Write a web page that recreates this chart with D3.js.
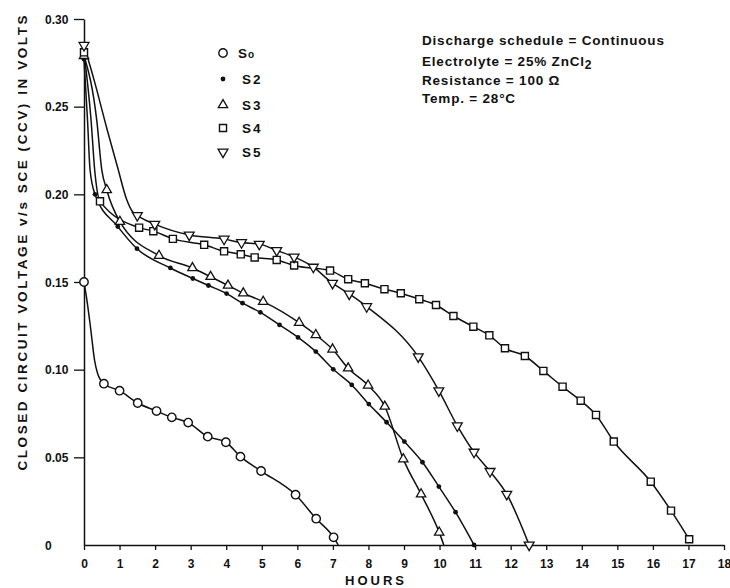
<!DOCTYPE html>
<html>
<head>
<meta charset="utf-8">
<script src="https://cdn.jsdelivr.net/npm/d3@7"></script>
<style>
  body { margin: 0; background: #fff; }
  svg { display: block; }
  text { font-family: "Liberation Sans", Arial, sans-serif; font-weight: bold; fill: #111; }
</style>
</head>
<body>
<svg id="chart" width="730" height="588"></svg>
<script>
// Axis tick values
const hourTicks = d3.range(0, 19);
const voltTicks = [0, 0.05, 0.10, 0.15, 0.20, 0.25, 0.30];

// Series names (legend order)
const seriesNames = ["So", "S2", "S3", "S4", "S5"];

// Measured points [hours, volts] (drawn with a marker)
const s0Points = [[0, 0.150], [0.56, 0.092], [1.0, 0.088], [1.51, 0.081], [2.04, 0.0764], [2.47, 0.0728],
  [2.93, 0.0698], [3.48, 0.0618], [3.99, 0.0586], [4.4, 0.0504], [4.98, 0.0422], [5.95, 0.0287],
  [6.53, 0.015], [7.02, 0.0044]];
const s2Points = [[0, 0.277], [0.31, 0.200], [0.95, 0.1816], [1.49, 0.169], [2.43, 0.158], [3.06, 0.152],
  [3.5, 0.148], [4.01, 0.1434], [4.46, 0.1379], [4.96, 0.1327], [5.5, 0.1255], [6.02, 0.1184],
  [6.52, 0.1103], [7.01, 0.1002], [7.53, 0.0913], [8.01, 0.0804], [8.51, 0.070], [9.01, 0.059],
  [9.52, 0.0472], [9.98, 0.0333], [10.45, 0.0187], [10.97, 0.0]];
const s3Points = [[0, 0.279], [0.64, 0.2025], [1.01, 0.1844], [2.11, 0.165], [3.05, 0.158], [3.56, 0.153],
  [4.05, 0.148], [4.48, 0.1436], [5.04, 0.1388], [6.05, 0.1268], [6.52, 0.1198], [6.99, 0.1116],
  [7.43, 0.1008], [7.99, 0.091], [8.46, 0.079], [8.98, 0.049], [9.48, 0.029], [9.99, 0.0072]];
const s4Points = [[0, 0.281], [0.45, 0.196], [1.55, 0.181], [1.95, 0.179], [2.5, 0.1746], [3.38, 0.1712],
  [3.94, 0.1675], [4.41, 0.1658], [4.8, 0.164], [5.42, 0.1626], [5.91, 0.1594], [6.92, 0.1565],
  [7.43, 0.1516], [7.9, 0.1493], [8.45, 0.1459], [8.91, 0.1436], [9.43, 0.1402], [9.9, 0.1369],
  [10.39, 0.1306], [10.95, 0.1245], [11.4, 0.1196], [11.84, 0.1122], [12.4, 0.1078], [12.92, 0.0993],
  [13.46, 0.0903], [13.97, 0.0823], [14.4, 0.0742], [14.9, 0.059], [15.94, 0.0361], [16.51, 0.0196],
  [17.02, 0.0033]];
const s5Points = [[0, 0.285], [1.5, 0.188], [1.99, 0.183], [2.96, 0.1768], [3.94, 0.1745], [4.43, 0.1725],
  [4.93, 0.1716], [5.42, 0.168], [5.91, 0.1643], [6.45, 0.1585], [6.99, 0.1493], [7.46, 0.1432],
  [7.95, 0.136], [9.40, 0.1074], [9.98, 0.088], [10.5, 0.068], [10.97, 0.053], [11.42, 0.042],
  [11.89, 0.029], [12.52, 0.0]];

// Extra curve knots without markers (initial drop and run-out to zero)
const s0Knots = [[0.08, 0.140], [0.19, 0.123], [0.3, 0.105], [0.38, 0.098], [7.15, 0.0]];
const s2Knots = [[0.1, 0.242], [0.17, 0.214]];
const s3Knots = [[0.36, 0.242], [0.5, 0.214], [10.12, 0.0]];
const s4Knots = [[0.2, 0.242], [0.3, 0.214]];
const s5Knots = [[0.3, 0.264], [0.65, 0.237], [0.95, 0.215], [1.2, 0.197], [1.35, 0.1905]];

const series = [
  { name: seriesNames[0], points: s0Points, knots: s0Knots, marker: "circle" },
  { name: seriesNames[1], points: s2Points, knots: s2Knots, marker: "dot" },
  { name: seriesNames[2], points: s3Points, knots: s3Knots, marker: "triUp" },
  { name: seriesNames[3], points: s4Points, knots: s4Knots, marker: "square" },
  { name: seriesNames[4], points: s5Points, knots: s5Knots, marker: "triDown" }
];

const svg = d3.select("#chart");
const x = d3.scaleLinear().domain([0, 18]).range([84, 724]);
const y = d3.scaleLinear().domain([0, 0.30]).range([545, 19]);

// Marker drawing
function drawMarker(sel, kind) {
  if (kind === "circle") {
    sel.append("circle").attr("r", 4.2).attr("fill", "#fff").attr("stroke", "#111").attr("stroke-width", 1.4);
  } else if (kind === "dot") {
    sel.append("circle").attr("r", 2.4).attr("fill", "#111");
  } else if (kind === "square") {
    sel.append("path").attr("d", d3.symbol(d3.symbolSquare, 50)())
      .attr("fill", "#fff").attr("stroke", "#111").attr("stroke-width", 1.4);
  } else if (kind === "triUp") {
    sel.append("path").attr("d", d3.symbol(d3.symbolTriangle, 38)())
      .attr("fill", "#fff").attr("stroke", "#111").attr("stroke-width", 1.3);
  } else if (kind === "triDown") {
    sel.append("path").attr("d", d3.symbol(d3.symbolTriangle, 42)())
      .attr("transform", "rotate(180)")
      .attr("fill", "#fff").attr("stroke", "#111").attr("stroke-width", 1.3);
  }
}

// Axes
const xAxis = d3.axisBottom(x).tickValues(hourTicks).tickSize(5).tickSizeOuter(0).tickFormat(d3.format("d"));
const gx = svg.append("g").attr("transform", `translate(0,${y(0)})`).call(xAxis);
gx.select(".domain").attr("stroke", "#111").attr("stroke-width", 1.5);
gx.selectAll(".tick line").attr("stroke", "#111").attr("stroke-width", 1.3);
gx.selectAll(".tick text").attr("y", 14).style("font-size", "12px").style("font-family", "\"Liberation Sans\", Arial, sans-serif").attr("fill", "#111");

const yAxis = d3.axisLeft(y).tickValues(voltTicks).tickSize(10).tickSizeOuter(0)
  .tickFormat(d => d === 0 ? "0" : d3.format(".2f")(d));
const gy = svg.append("g").attr("transform", `translate(${x(0)},0)`).call(yAxis);
gy.select(".domain").attr("stroke", "#111").attr("stroke-width", 1.5);
gy.selectAll(".tick line").attr("stroke", "#111").attr("stroke-width", 1.3)
  .attr("display", d => d === 0 ? "none" : null);
gy.selectAll(".tick text").attr("text-anchor", "start").attr("x", -39).attr("dy", "0.35em")
  .style("font-size", "12px").style("font-family", "\"Liberation Sans\", Arial, sans-serif").attr("fill", "#111");

// Axis titles
svg.append("text").attr("x", 376).attr("y", 585).attr("text-anchor", "middle")
  .style("font-size", "13px").style("letter-spacing", "3px").text("HOURS");
svg.append("text").attr("transform", "translate(27,243) rotate(-90)").attr("text-anchor", "middle")
  .style("font-size", "13.5px")
  .attr("textLength", 455).attr("lengthAdjust", "spacing")
  .text("CLOSED CIRCUIT VOLTAGE  v/s  SCE (CCV)  IN  VOLTS");

// Curves
const line = d3.line().x(d => x(d[0])).y(d => y(d[1])).curve(d3.curveMonotoneX);
series.forEach(s => {
  const pts = s.points.concat(s.knots).sort((a, b) => a[0] - b[0]);
  svg.append("path").datum(pts).attr("d", line)
    .attr("fill", "none").attr("stroke", "#111").attr("stroke-width", 1.5);
});
series.forEach(s => {
  svg.append("g").selectAll("g").data(s.points).join("g")
    .attr("transform", d => `translate(${x(d[0])},${y(d[1])})`)
    .each(function () { drawMarker(d3.select(this), s.marker); });
});

// Legend
const legendY = [53, 79, 105, 128, 152];
series.forEach((s, i) => {
  const g = svg.append("g").attr("transform", `translate(223,${legendY[i]})`);
  drawMarker(g, s.marker);
  const t = g.append("text").attr("x", s.name === "So" ? 15 : 19).attr("dy", "0.36em").style("font-size", "13.5px");
  t.append("tspan").text(s.name[0]);
  t.append("tspan").text(s.name.slice(1)).style("font-size", s.name === "So" ? "10px" : "13.5px")
    .attr("dx", s.name === "So" ? 1 : 2);
});

// Test conditions note
const noteLines = [
  [{ t: "Discharge  schedule = Continuous" }],
  [{ t: "Electrolyte = 25% ZnCl" }, { t: "2", sub: true }],
  [{ t: "Resistance = 100 Ω" }],
  [{ t: "Temp. = 28°C" }]
];
const noteY = [45, 66, 85, 103];
noteLines.forEach((parts, i) => {
  const t = svg.append("text").attr("x", 422).attr("y", noteY[i])
    .style("font-size", "13.5px").style("letter-spacing", "0.8px");
  parts.forEach(p => {
    const sp = t.append("tspan").text(p.t);
    if (p.sub) sp.attr("dy", 3).style("font-size", "12px");
  });
});
</script>
</body>
</html>
